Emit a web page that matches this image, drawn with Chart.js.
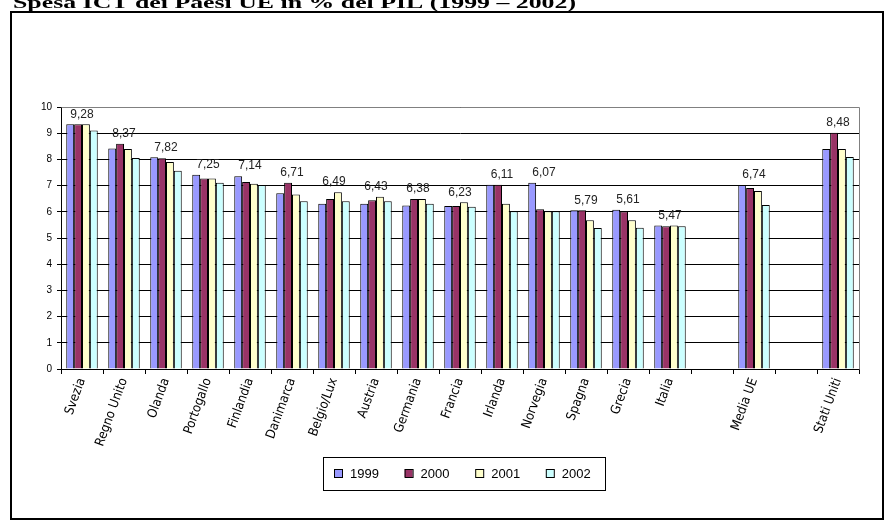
<!DOCTYPE html>
<html>
<head>
<meta charset="utf-8">
<script src="https://cdn.jsdelivr.net/npm/chart.js@4.4.1/dist/chart.umd.min.js"></script>
<style>
  html, body { margin: 0; padding: 0; background: #fff; }
  #wrap { position: relative; width: 895px; height: 524px; }
</style>
</head>
<body>
<div id="wrap"><canvas id="chartIct"></canvas></div>
<script>
const PAESI = ['Svezia', 'Regno Unito', 'Olanda', 'Portogallo', 'Finlandia', 'Danimarca', 'Belgio/Lux',
  'Austria', 'Germania', 'Francia', 'Irlanda', 'Norvegia', 'Spagna', 'Grecia', 'Italia', '', 'Media UE', '', 'Stati Uniti'];

const ANNI = ['1999', '2000', '2001', '2002'];

const V1999 = [9.34, 8.42, 8.08, 7.41, 7.36, 6.71, 6.31, 6.31, 6.24, 6.22, 7.03, 7.11, 6.06, 6.08, 5.48, null, 7.02, null, 8.40];
const V2000 = [9.34, 8.60, 8.04, 7.27, 7.14, 7.11, 6.49, 6.44, 6.49, 6.22, 7.03, 6.10, 6.06, 6.01, 5.45, null, 6.91, null, 9.02];
const V2001 = [9.34, 8.40, 7.90, 7.27, 7.07, 6.66, 6.75, 6.57, 6.49, 6.36, 6.31, 6.02, 5.68, 5.68, 5.48, null, 6.79, null, 8.40];
const V2002 = [9.10, 8.05, 7.57, 7.11, 7.02, 6.40, 6.40, 6.40, 6.31, 6.19, 6.02, 6.02, 5.38, 5.39, 5.45, null, 6.26, null, 8.09];

// valori medi scritti sopra ogni gruppo
const MEDIE = [9.28, 8.37, 7.82, 7.25, 7.14, 6.71, 6.49, 6.43, 6.38, 6.23, 6.11, 6.07, 5.79, 5.61, 5.47, null, 6.74, null, 8.48];

const Y_TICKS = [0, 1, 2, 3, 4, 5, 6, 7, 8, 9, 10];

const COLORI = ['#9999FF', '#993366', '#FFFFCC', '#CCFFFF'];
const SANS = "'Liberation Sans', Arial, sans-serif";

const fmt = n => n.toFixed(2).replace('.', ',');

// cornice, titolo, bordo area, etichette medie e legenda
const decorPlugin = {
  id: 'decor',
  beforeDraw(chart) {
    const ctx = chart.ctx;
    ctx.save();
    ctx.fillStyle = '#fff';
    ctx.fillRect(0, 0, chart.width, chart.height);
    ctx.strokeStyle = '#000';
    ctx.lineWidth = 2;
    ctx.strokeRect(11, 12, 872, 507);

    // titolo (tagliato in alto)
    const titolo = 'Spesa ICT dei Paesi UE in % del PIL (1999 \u2013 2002)';
    ctx.font = "bold 17px 'Liberation Serif', 'Times New Roman', serif";
    const w = ctx.measureText(titolo).width;
    ctx.translate(13, 8);
    ctx.scale(563 / w, 1);
    ctx.fillStyle = '#000';
    ctx.textBaseline = 'alphabetic';
    ctx.fillText(titolo, 0, 0);
    ctx.restore();
  },
  afterDatasetsDraw(chart) {
    const ctx = chart.ctx;
    const a = chart.chartArea;
    const xs = chart.scales.x, ys = chart.scales.y;
    ctx.save();
    ctx.strokeStyle = '#808080';
    ctx.lineWidth = 1;
    ctx.beginPath();
    ctx.moveTo(Math.round(a.left) + 0.5, Math.round(a.top) + 0.5);
    ctx.lineTo(Math.round(a.right) + 0.5, Math.round(a.top) + 0.5);
    ctx.lineTo(Math.round(a.right) + 0.5, Math.round(a.bottom) + 0.5);
    ctx.stroke();

    ctx.font = '12px ' + SANS;
    ctx.fillStyle = '#222';
    ctx.textAlign = 'center';
    ctx.textBaseline = 'middle';
    MEDIE.forEach((m, i) => {
      if (m === null) return;
      const top = Math.max(V1999[i], V2000[i], V2001[i], V2002[i]);
      ctx.fillText(fmt(m), xs.getPixelForValue(i), ys.getPixelForValue(top) - 10);
    });

    // legenda
    ctx.strokeStyle = '#000';
    ctx.lineWidth = 1;
    ctx.strokeRect(323.5, 457.5, 282, 33);
    ctx.font = '13px ' + SANS;
    ctx.textAlign = 'left';
    ANNI.forEach((anno, k) => {
      const x = 334 + k * 70.6;
      ctx.fillStyle = COLORI[k];
      ctx.fillRect(x, 469, 8, 8);
      ctx.strokeRect(x + 0.5, 469.5, 8, 8);
      ctx.fillStyle = '#000';
      ctx.fillText(anno, x + 16, 474);
    });
    ctx.restore();
  }
};

const serie = [V1999, V2000, V2001, V2002];

new Chart(document.getElementById('chartIct'), {
  type: 'bar',
  data: {
    labels: PAESI,
    datasets: serie.map((d, k) => ({
      label: ANNI[k],
      data: d,
      backgroundColor: COLORI[k],
      borderColor: '#000',
      borderWidth: 1,
      categoryPercentage: 0.75,
      barPercentage: 1.0,
    }))
  },
  options: {
    responsive: true,
    maintainAspectRatio: false,
    animation: false,
    layout: { padding: { left: 0, right: 36, top: 107, bottom: 0 } },
    plugins: {
      legend: { display: false },
      tooltip: { enabled: false }
    },
    scales: {
      x: {
        afterFit: s => { s.height = 155; },
        grid: { drawOnChartArea: false, color: '#000', tickLength: 5, offset: true },
        border: { color: '#000' },
        ticks: {
          autoSkip: false,
          minRotation: 70,
          maxRotation: 70,
          padding: 2,
          color: '#000',
          font: { family: "'Liberation Sans Narrow', 'DejaVu Sans Condensed', Arial, sans-serif", size: 13 }
        }
      },
      y: {
        min: 0,
        max: 10,
        afterFit: s => { s.width = 61; },
        afterBuildTicks: s => { s.ticks = Y_TICKS.map(v => ({ value: v })); },
        grid: { color: '#000', tickLength: 4 },
        border: { color: '#000' },
        ticks: {
          padding: 5,
          color: '#000',
          font: { family: SANS, size: 10 }
        }
      }
    }
  },
  plugins: [decorPlugin]
});
</script>
</body>
</html>
